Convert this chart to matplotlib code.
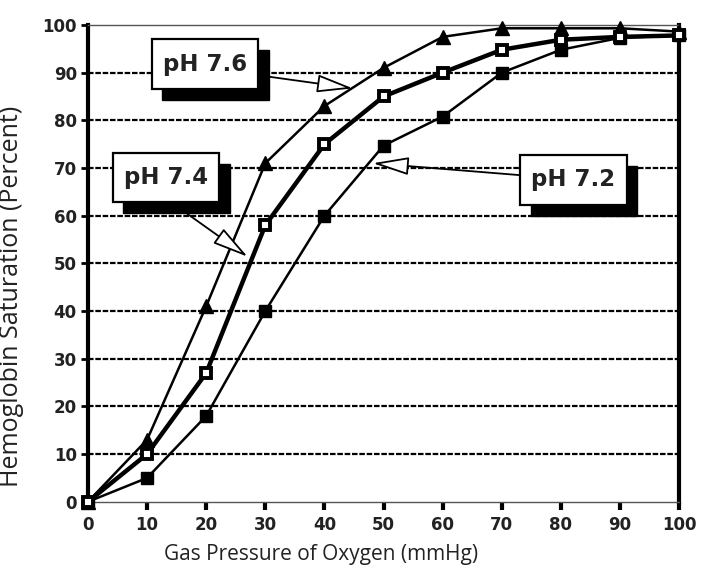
import matplotlib
matplotlib.use("Agg")
import matplotlib.pyplot as plt
from matplotlib.patches import Rectangle

# Daten: Sauerstoffpartialdruck (mmHg) und Sättigung (%)
pressure = [0, 10, 20, 30, 40, 50, 60, 70, 80, 90, 100]
sat_76 = [0, 13, 41, 71, 83, 91, 97.5, 99.3, 99.3, 99.3, 98.6]
sat_74 = [0, 10, 27, 58, 75, 85, 90, 94.8, 96.9, 97.5, 97.8]
sat_72 = [0, 5, 18, 40, 60, 74.7, 80.8, 90, 94.8, 97.3, 97.8]

labels = ["pH 7.6", "pH 7.4", "pH 7.2"]
y_ticks = [0, 10, 20, 30, 40, 50, 60, 70, 80, 90, 100]

fig = plt.figure(figsize=(7.09, 5.67), dpi=100)
ax = fig.add_axes([0.124, 0.115, 0.834, 0.841])

# Gitterlinien
for yv in y_ticks[1:-1]:
    ax.axhline(yv, color="black", lw=1.6, ls=(0, (2.5, 0.8)), zorder=1)

ax.plot(pressure, sat_76, color="black", lw=1.8, marker="^", ms=10,
        mfc="black", mec="black", clip_on=False, zorder=3)
ax.plot(pressure, sat_72, color="black", lw=1.8, marker="s", ms=8,
        mfc="black", mec="black", clip_on=False, zorder=3)
ax.plot(pressure, sat_74, color="black", lw=3.2, marker="s", ms=7,
        mfc="white", mec="black", mew=2.8, clip_on=False, zorder=4)

ax.set_xlim(0, 100)
ax.set_ylim(0, 100)
ax.set_xticks(pressure)
ax.set_yticks(y_ticks)

ax.spines["left"].set_linewidth(3)
ax.spines["right"].set_linewidth(3)
ax.spines["bottom"].set_linewidth(1.0)
ax.spines["bottom"].set_color("#555555")
ax.spines["top"].set_linewidth(1.0)
ax.spines["top"].set_color("#555555")

ax.tick_params(axis="x", direction="out", length=6, width=3, pad=4)
ax.tick_params(axis="y", direction="out", length=5, width=2, pad=3)
for lab in ax.get_xticklabels() + ax.get_yticklabels():
    lab.set_fontfamily("DejaVu Sans")
    lab.set_fontweight("bold")
    lab.set_fontsize(12)
    lab.set_color("#222222")

ax.set_xlabel("Gas Pressure of Oxygen (mmHg)", fontfamily="Open Sans",
              fontsize=15, color="#222222")
ax.set_ylabel("Hemoglobin Saturation (Percent)", fontfamily="Open Sans",
              fontsize=18, color="#222222")
ax.xaxis.set_label_coords(0.394, -0.088)
ax.yaxis.set_label_coords(-0.108, 0.43)

# Beschriftungsboxen mit Schatten und Pfeilen
box_pos = [(10.8, 86.6), (4.2, 62.8), (73.1, 62.3)]
arrow_tail = [(30.3, 89.2), (16.8, 60.4), (73.1, 68.5)]
arrow_tip = [(44.8, 86.7), (27.0, 51.4), (48.2, 71.0)]
bw, bh = 18.0, 10.4
sx, sy = 1.8, -2.3

for lab, (bx, by), tail, tip in zip(labels, box_pos, arrow_tail, arrow_tip):
    ax.annotate("", xy=tip, xytext=tail,
                arrowprops=dict(arrowstyle="-|>,head_length=1.6,head_width=0.4",
                                mutation_scale=14, fc="white", ec="black",
                                lw=1.3, shrinkA=0, shrinkB=0),
                zorder=5, annotation_clip=False)
    ax.add_patch(Rectangle((bx + sx, by + sy), bw, bh, fc="black", ec="black",
                           zorder=6, clip_on=False))
    ax.add_patch(Rectangle((bx, by), bw, bh, fc="white", ec="black", lw=1.6,
                           zorder=7, clip_on=False))
    ax.text(bx + bw / 2, by + bh / 2, lab, ha="center", va="center",
            fontfamily="DejaVu Sans", fontweight="bold", fontsize=16.5,
            color="#222222", zorder=8)

fig.savefig("out.png", dpi=100)
